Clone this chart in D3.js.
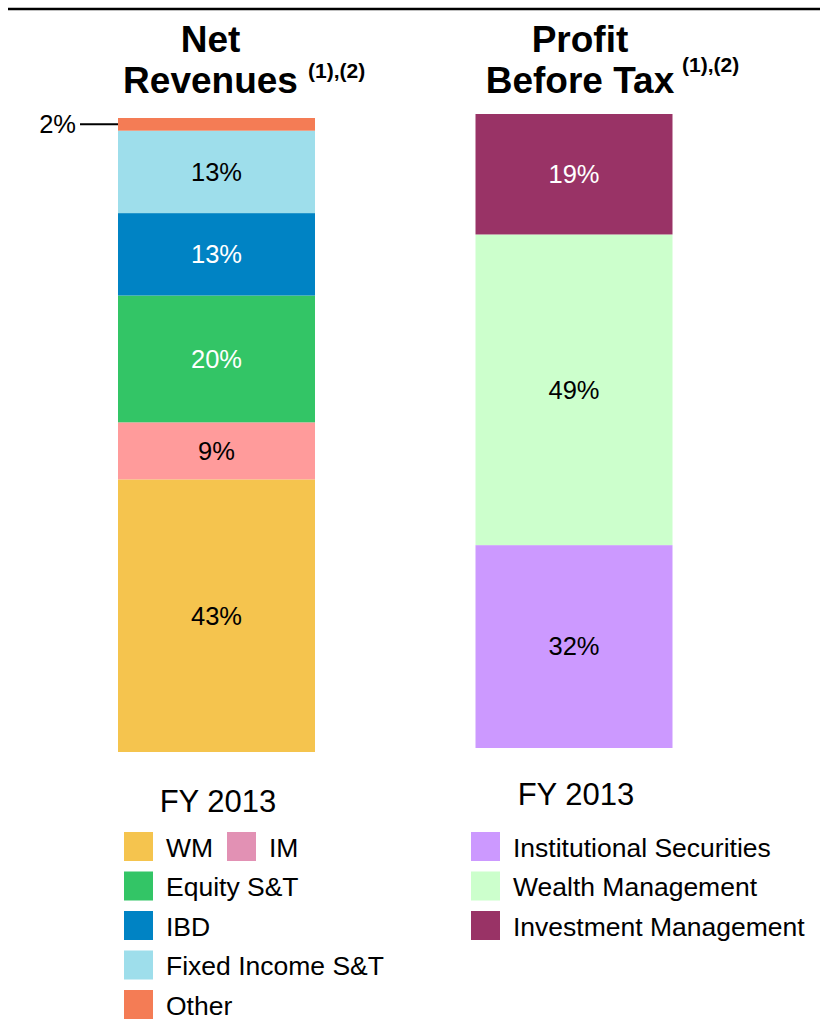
<!DOCTYPE html>
<html>
<head>
<meta charset="utf-8">
<script src="https://cdn.jsdelivr.net/npm/d3@7/dist/d3.min.js"></script>
<style>
  html, body { margin: 0; padding: 0; background: #fff; }
  svg { display: block; font-family: "Liberation Sans", Arial, Helvetica, sans-serif; }
</style>
</head>
<body>
<svg id="chart" width="820" height="1024"></svg>
<script>
// ---------- DATA ----------
const panels = ["Net Revenues", "Profit Before Tax"];
const periodLabel = "FY 2013";

// Net Revenues, stacked bottom -> top
const revCategories = ["WM", "IM", "Equity S&T", "IBD", "Fixed Income S&T", "Other"];
const revValues     = [43, 9, 20, 13, 13, 2];
const revBarColors  = ["#F5C44E", "#FF9B9B", "#33C566", "#0083C4", "#9EDEEB", "#F47C55"];
const revLegendColors = ["#F5C44E", "#E291B4", "#33C566", "#0083C4", "#9EDEEB", "#F47C55"];
const revLabelColors  = ["#000", "#000", "#fff", "#fff", "#000", "#000"];

// Profit Before Tax, stacked bottom -> top
const pbtCategories = ["Institutional Securities", "Wealth Management", "Investment Management"];
const pbtValues     = [32, 49, 19];
const pbtColors     = ["#CC99FF", "#CCFFCC", "#993366"];
const pbtLabelColors = ["#000", "#000", "#fff"];

// ---------- LAYOUT ----------
const svg = d3.select("#chart");
const FONT_LABEL = 25.5;
const barWidth = 197;

const xCenter = d3.scalePoint().domain(panels).range([216.5, 574]);

const yRev = d3.scaleLinear().domain([0, 100]).range([752, 118]);
const yPbt = d3.scaleLinear().domain([0, 100]).range([748, 114]);

// top rule
svg.append("line")
  .attr("x1", 8).attr("x2", 820).attr("y1", 9).attr("y2", 9)
  .attr("stroke", "#000").attr("stroke-width", 2.5);

function stackOf(values) {
  const ends = d3.cumsum(values);
  return values.map((v, i) => ({ v, i, y0: ends[i] - v, y1: ends[i] }));
}

function drawBar(panel, values, colors, labelColors, y, hideLabel) {
  const cx = xCenter(panel);
  const g = svg.append("g");
  const segs = stackOf(values);
  g.selectAll("rect").data(segs).join("rect")
    .attr("x", cx - barWidth / 2)
    .attr("width", barWidth)
    .attr("y", d => y(d.y1))
    .attr("height", d => y(d.y0) - y(d.y1))
    .attr("fill", d => colors[d.i]);
  g.selectAll("text").data(segs.filter(d => !hideLabel(d))).join("text")
    .attr("x", cx)
    .attr("y", d => (y(d.y0) + y(d.y1)) / 2)
    .attr("dy", "0.35em")
    .attr("text-anchor", "middle")
    .attr("font-size", FONT_LABEL)
    .attr("fill", d => labelColors[d.i])
    .text(d => d.v + "%");
  return segs;
}

const revSegs = drawBar(panels[0], revValues, revBarColors, revLabelColors, yRev, d => d.v < 5);
drawBar(panels[1], pbtValues, pbtColors, pbtLabelColors, yPbt, d => d.v < 5);

// callout for small segment
revSegs.filter(d => d.v < 5).forEach(d => {
  const cy = (yRev(d.y0) + yRev(d.y1)) / 2;
  const left = xCenter(panels[0]) - barWidth / 2;
  svg.append("line")
    .attr("x1", left - 38).attr("x2", left).attr("y1", cy).attr("y2", cy)
    .attr("stroke", "#000").attr("stroke-width", 2);
  svg.append("text")
    .attr("x", left - 42).attr("y", cy).attr("dy", "0.35em")
    .attr("text-anchor", "end").attr("font-size", FONT_LABEL)
    .text(d.v + "%");
});

// titles
function title(cx, line1, line2, supX, supY) {
  svg.append("text").attr("x", cx).attr("y", 52).attr("text-anchor", "middle")
    .attr("font-size", 37).attr("font-weight", "bold").text(line1);
  svg.append("text").attr("x", cx).attr("y", 93).attr("text-anchor", "middle")
    .attr("font-size", 37).attr("font-weight", "bold").text(line2);
  svg.append("text").attr("x", supX).attr("y", supY)
    .attr("font-size", 21).attr("font-weight", "bold").text("(1),(2)");
}
const [t1a, t1b] = panels[0].split(" ");
title(xCenter(panels[0]) - 6, t1a, t1b, 308, 78);
const p2 = panels[1].split(" ");
title(xCenter(panels[1]) + 6, p2[0], p2.slice(1).join(" "), 682, 72);

// period labels
svg.append("text").attr("x", xCenter(panels[0]) + 1.5).attr("y", 812)
  .attr("text-anchor", "middle").attr("font-size", 31).text(periodLabel);
svg.append("text").attr("x", xCenter(panels[1]) + 2).attr("y", 805)
  .attr("text-anchor", "middle").attr("font-size", 31).text(periodLabel);

// legends
const SQ = 29, ROW = 39.5, LEG_FONT = 26.5;
function legendItem(x, y, color, label) {
  svg.append("rect").attr("x", x).attr("y", y).attr("width", SQ).attr("height", SQ).attr("fill", color);
  svg.append("text").attr("x", x + SQ + 13).attr("y", y + SQ / 2 + 1).attr("dy", "0.35em")
    .attr("font-size", LEG_FONT).text(label);
}
// left legend: WM and IM share first row, rest follow
const revLegendOrder = [0, 1, 2, 3, 4, 5];
revLegendOrder.forEach((idx, k) => {
  const row = k <= 1 ? 0 : k - 1;
  const x = k === 1 ? 227 : 124;
  legendItem(x, 832 + row * ROW, revLegendColors[idx], revCategories[idx]);
});
// right legend
pbtCategories.forEach((c, k) => {
  legendItem(471, 832 + k * ROW, pbtColors[k], c);
});
</script>
</body>
</html>
